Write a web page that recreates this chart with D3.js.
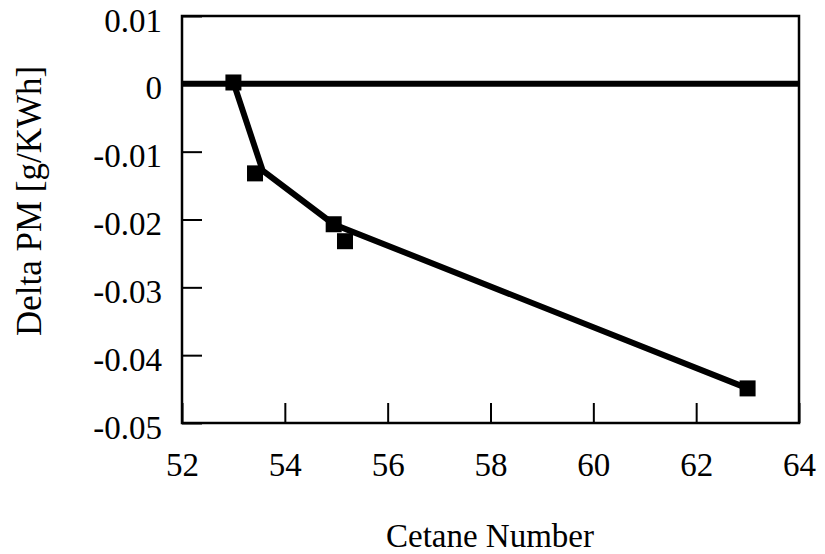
<!DOCTYPE html>
<html>
<head>
<meta charset="utf-8">
<script src="https://cdn.jsdelivr.net/npm/d3@7"></script>
<style>
  html, body { margin: 0; padding: 0; background: #fff; }
  svg { display: block; }
  text { font-family: "Liberation Serif", "Times New Roman", serif; fill: #000; }
</style>
</head>
<body>
<svg id="chart" width="825" height="554"></svg>
<script>
// Measured samples: cetane number vs. change in particulate matter
const cetane = [53.0, 53.42, 54.95, 55.17, 63.0];
const deltaPM = [0.0002, -0.0132, -0.0207, -0.0232, -0.0449];

// Connecting trend line vertices
const lineCetane = [53.0, 53.57, 54.95, 63.0];
const lineDeltaPM = [0.0002, -0.0128, -0.0207, -0.0449];

// Axis ticks
const xTicks = [52, 54, 56, 58, 60, 62, 64];
const yTicks = [0.01, 0, -0.01, -0.02, -0.03, -0.04, -0.05];
const yTickLabels = ["0.01", "0", "-0.01", "-0.02", "-0.03", "-0.04", "-0.05"];

const xTitle = "Cetane Number";
const yTitle = "Delta PM [g/KWh]";

const serif = '"Liberation Serif", "Times New Roman", serif';

const svg = d3.select("#chart");
const margin = { left: 182, right: 26, top: 16, bottom: 131 };
const W = 825, H = 554;
const x0 = margin.left, x1 = W - margin.right;
const y0 = margin.top, y1 = H - margin.bottom;

const x = d3.scaleLinear().domain([52, 64]).range([x0, x1]);
const y = d3.scaleLinear().domain([-0.05, 0.01]).range([y1, y0]);

const fontSize = 33;

// Left axis: inward ticks, labels right-aligned
const yAxis = d3.axisLeft(y)
  .tickValues(yTicks)
  .tickSize(-20)
  .tickPadding(20)
  .tickFormat((d, i) => yTickLabels[i]);
const gy = svg.append("g").attr("transform", `translate(${x0},0)`).call(yAxis);
gy.attr("font-family", null).attr("font-size", null);
gy.select(".domain").remove();
gy.selectAll(".tick line").attr("stroke", "#000").attr("stroke-width", 2);
gy.selectAll(".tick text")
  .style("font-family", serif)
  .style("font-size", fontSize + "px")
  .attr("dy", null)
  .attr("dominant-baseline", "central")
  .attr("transform", "translate(0,4)");

// Bottom axis: inward ticks
const xAxis = d3.axisBottom(x)
  .tickValues(xTicks)
  .tickSize(-20)
  .tickPadding(30)
  .tickFormat(d3.format("d"));
const gx = svg.append("g").attr("transform", `translate(0,${y1})`).call(xAxis);
gx.attr("font-family", null).attr("font-size", null);
gx.select(".domain").remove();
gx.selectAll(".tick line").attr("stroke", "#000").attr("stroke-width", 2);
gx.selectAll(".tick text")
  .style("font-family", serif)
  .style("font-size", fontSize + "px")
  .attr("y", 53)
  .attr("dy", null);

// Plot frame
svg.append("rect")
  .attr("x", x0).attr("y", y0)
  .attr("width", x1 - x0).attr("height", y1 - y0)
  .attr("fill", "none").attr("stroke", "#000").attr("stroke-width", 2.5);

// Zero reference line
svg.append("line")
  .attr("x1", x0).attr("x2", x1)
  .attr("y1", y(0)).attr("y2", y(0))
  .attr("stroke", "#000").attr("stroke-width", 6);

// Trend line
const linePts = lineCetane.map((c, i) => [c, lineDeltaPM[i]]);
svg.append("path")
  .datum(linePts)
  .attr("d", d3.line().x(d => x(d[0])).y(d => y(d[1])))
  .attr("fill", "none").attr("stroke", "#000")
  .attr("stroke-width", 6).attr("stroke-linejoin", "miter");

// Square markers
const ms = 16;
svg.append("g").selectAll("rect")
  .data(cetane.map((c, i) => [c, deltaPM[i]]))
  .join("rect")
  .attr("x", d => x(d[0]) - ms / 2)
  .attr("y", d => y(d[1]) - ms / 2)
  .attr("width", ms).attr("height", ms)
  .attr("fill", "#000");

// Axis titles
svg.append("text")
  .attr("x", 490).attr("y", 547)
  .attr("text-anchor", "middle")
  .style("font-size", fontSize + "px")
  .text(xTitle);

svg.append("text")
  .attr("transform", "translate(41,201) rotate(-90)")
  .attr("text-anchor", "middle")
  .style("font-size", "35px")
  .text(yTitle);
</script>
</body>
</html>
